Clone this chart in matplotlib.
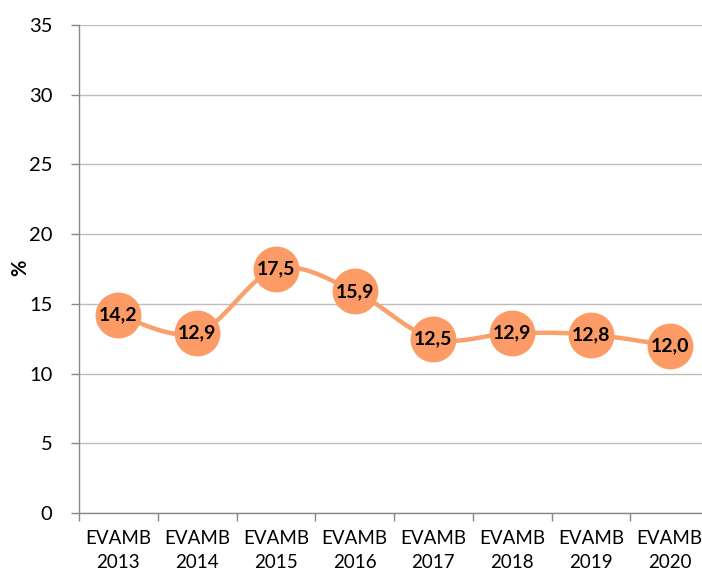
import numpy as np
import matplotlib
matplotlib.use("Agg")
import matplotlib.pyplot as plt

categories = ["EVAMB\n2013", "EVAMB\n2014", "EVAMB\n2015", "EVAMB\n2016",
              "EVAMB\n2017", "EVAMB\n2018", "EVAMB\n2019", "EVAMB\n2020"]
values = [14.2, 12.9, 17.5, 15.9, 12.5, 12.9, 12.8, 12.0]
labels = ["14,2", "12,9", "17,5", "15,9", "12,5", "12,9", "12,8", "12,0"]
yticks = [0, 5, 10, 15, 20, 25, 30, 35]

plt.rcParams['font.family'] = ['Lato', 'DejaVu Sans']

fig = plt.figure(figsize=(7.02, 5.73), dpi=100)
ax = fig.add_axes([79/702, 60/573, 630/702, 488/573])

x = np.arange(len(values))
y = np.array(values, dtype=float)

# Excel-like smoothed line (Catmull-Rom style Bezier) in pixel-like scaled coords
sx, sy = 78.6, 13.94
px, py = x * sx, y * sy
P = np.column_stack([px, py])
curve = []
for i in range(len(P) - 1):
    p0 = P[i - 1] if i > 0 else P[i]
    p1 = P[i]
    p2 = P[i + 1]
    p3 = P[i + 2] if i + 2 < len(P) else P[i + 1]
    c1 = p1 + (p2 - p0) / 6
    c2 = p2 - (p3 - p1) / 6
    t = np.linspace(0, 1, 40)[:, None]
    seg = (1 - t) ** 3 * p1 + 3 * (1 - t) ** 2 * t * c1 + 3 * (1 - t) * t ** 2 * c2 + t ** 3 * p2
    curve.append(seg)
curve = np.vstack(curve)
ax.plot(curve[:, 0] / sx, curve[:, 1] / sy, color='#F9A06C', lw=3.2, zorder=2,
        solid_capstyle='round')
ax.plot(x, y, 'o', ms=32, color='#FC9B66', mec='#FC9B66', zorder=3)
for xi, yi, lab in zip(x, y, labels):
    ax.text(xi, yi, lab, ha='center', va='center', fontsize=14,
            fontweight='bold', color='black', zorder=4)

ax.set_xlim(-0.5, len(values) - 0.5)
ax.set_ylim(0, 35)
ax.set_yticks(yticks)
ax.set_yticklabels([str(v) for v in yticks], fontsize=14.5)
ax.set_xticks(x)
ax.set_xticklabels(categories, fontsize=13.5, linespacing=1.5)
ax.set_xticks(np.arange(-0.5, len(values), 1), minor=True)
ax.tick_params(axis='x', which='major', length=0, pad=12)
ax.tick_params(axis='x', which='minor', length=6, color='#888888', width=1)
ax.tick_params(axis='y', length=6, color='#888888', width=1, pad=13)
ax.grid(axis='y', color='#BDBDBD', lw=1)
ax.set_axisbelow(True)
for s in ['top', 'right']:
    ax.spines[s].set_visible(False)
for s in ['left', 'bottom']:
    ax.spines[s].set_color('#888888')
    ax.spines[s].set_linewidth(1)
ax.set_ylabel('%', fontsize=14.5, fontweight='bold')
ax.yaxis.set_label_coords(-0.078, 0.502)

fig.savefig('out.png', dpi=100)
